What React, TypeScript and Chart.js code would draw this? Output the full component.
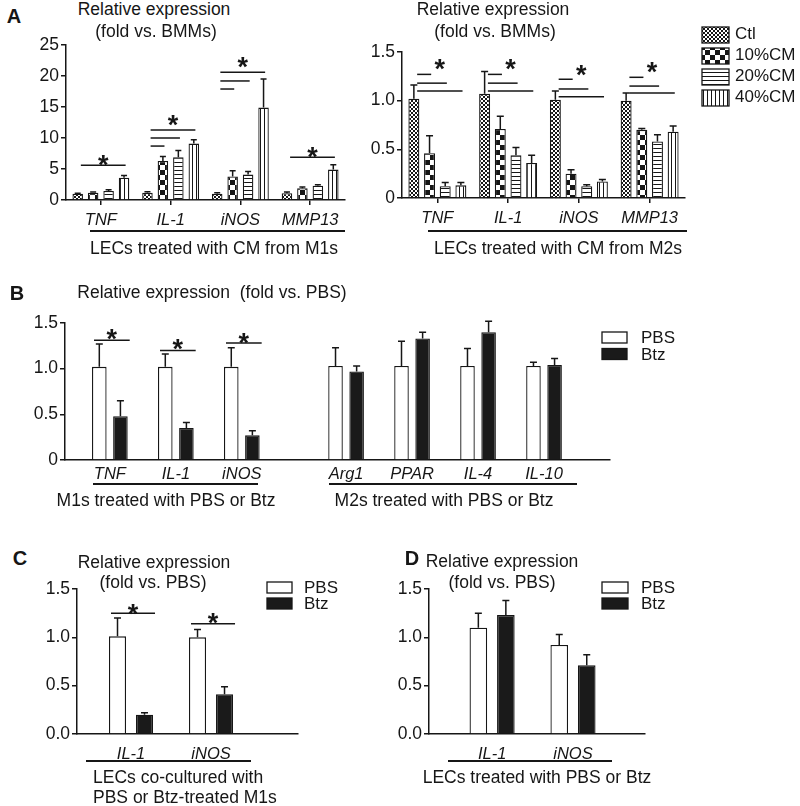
import React, { useEffect, useRef } from 'react';
import { Chart, registerables } from 'chart.js';

Chart.register(...registerables);

const FONT = '"Liberation Sans", Arial, Helvetica, sans-serif';
const INK = '#161616';

// ---------- Panel A (left): LECs treated with CM from M1s ----------
const aGenes = ['TNF', 'IL-1', 'iNOS', 'MMP13'];
const aGroups = ['Ctl', '10%CM', '20%CM', '40%CM'];
const aM1Ctl = [1.0, 1.15, 1.0, 1.1];
const aM1Cm10 = [1.15, 6.3, 3.8, 1.9];
const aM1Cm20 = [1.45, 6.9, 4.1, 2.3];
const aM1Cm40 = [3.6, 9.1, 14.9, 4.9];
const aM1CtlErr = [0.1, 0.2, 0.15, 0.2];
const aM1Cm10Err = [0.15, 0.7, 0.9, 0.2];
const aM1Cm20Err = [0.2, 1.1, 0.5, 0.15];
const aM1Cm40Err = [0.35, 0.6, 4.6, 0.8];
const aM1YTicks = ['0', '5', '10', '15', '20', '25'];
// [gene, from group, to group, height]
const aM1Sig = [[0, 0, 3, 5.6], [1, 0, 1, 8.7], [1, 0, 2, 10.0], [1, 0, 3, 11.3], [2, 0, 1, 17.9], [2, 0, 2, 19.2], [2, 0, 3, 20.6], [3, 0, 3, 6.9]];
const aM1Stars = [[0, 6.8], [1, 13.2], [2, 22.6], [3, 8.1]];

// ---------- Panel A (right): LECs treated with CM from M2s ----------
const aM2Ctl = [1.02, 1.07, 1.01, 1.0];
const aM2Cm10 = [0.46, 0.71, 0.25, 0.7];
const aM2Cm20 = [0.12, 0.44, 0.12, 0.58];
const aM2Cm40 = [0.13, 0.36, 0.17, 0.68];
const aM2CtlErr = [0.14, 0.23, 0.09, 0.08];
const aM2Cm10Err = [0.18, 0.13, 0.04, 0.015];
const aM2Cm20Err = [0.04, 0.08, 0.015, 0.07];
const aM2Cm40Err = [0.03, 0.08, 0.02, 0.06];
const aM2YTicks = ['0', '0.5', '1.0', '1.5'];
const aM2Sig = [[0, 0, 1, 1.27], [0, 0, 2, 1.18], [0, 0, 3, 1.1], [1, 0, 1, 1.27], [1, 0, 2, 1.18], [1, 0, 3, 1.1], [2, 0, 1, 1.22], [2, 0, 2, 1.12], [2, 0, 3, 1.04], [3, 0, 1, 1.24], [3, 0, 2, 1.15], [3, 0, 3, 1.08]];
const aM2Stars = [[0, 1.4], [1, 1.4], [2, 1.34], [3, 1.37]];

// ---------- Panel B ----------
const bM1Genes = ['TNF', 'IL-1', 'iNOS'];
const bM2Genes = ['Arg1', 'PPAR', 'IL-4', 'IL-10'];
const bTreat = ['PBS', 'Btz'];
const bPBS = [1.02, 1.02, 1.02, 1.03, 1.03, 1.03, 1.03];
const bPBSErr = [0.25, 0.14, 0.21, 0.2, 0.27, 0.19, 0.04];
const bBtz = [0.48, 0.35, 0.27, 0.97, 1.33, 1.4, 1.04];
const bBtzErr = [0.17, 0.06, 0.05, 0.06, 0.07, 0.12, 0.07];
const bYTicks = ['0', '0.5', '1.0', '1.5'];
const bSig = [[0, 0, 1, 1.31], [1, 0, 1, 1.2], [2, 0, 1, 1.28]];
const bStars = [[0, 1.4], [1, 1.29], [2, 1.36]];
const B_GAP = 0.58;

// ---------- Panel C ----------
const cGenes = ['IL-1', 'iNOS'];
const cPBS = [1.01, 1.0];
const cPBSErr = [0.19, 0.08];
const cBtz = [0.2, 0.41];
const cBtzErr = [0.02, 0.08];
const cdYTicks = ['0.0', '0.5', '1.0', '1.5'];
const cSig = [[0, 0, 1, 1.25], [1, 0, 1, 1.14]];
const cStars = [[0, 1.32], [1, 1.22]];

// ---------- Panel D ----------
const dGenes = ['IL-1', 'iNOS'];
const dPBS = [1.1, 0.92];
const dPBSErr = [0.15, 0.11];
const dBtz = [1.23, 0.71];
const dBtzErr = [0.15, 0.11];

type Fill = 'fine' | 'check' | 'hlines' | 'vlines' | 'white' | 'black';
interface SetSpec { label: string; values: number[]; errors: number[]; fill: Fill }
interface Spec {
  canvas: number[]; // page x, y, w, h
  area: number[]; // page l, t, r, b
  labels: string[];
  pos: number[];
  xRange: number[];
  yMax: number; yStep: number; yTicks: string[];
  sets: SetSpec[];
  catPct: number; barPct: number;
  xTickMarks: boolean; labelPad: number;
  sig: number[][]; stars: number[][]; sigStyle: 'center' | 'span';
  cap: number; starSize: number;
  legend: { x: number; y: number; w: number; h: number; pitch: number; tx: number; dy: number };
}

function makeFill(kind: Fill): any {
  if (kind === 'white') return '#ffffff';
  if (kind === 'black') return '#1a1a1a';
  const c = document.createElement('canvas');
  const g = c.getContext('2d')!;
  if (kind === 'fine') {
    c.width = 4; c.height = 4;
    g.fillStyle = '#fff'; g.fillRect(0, 0, 4, 4);
    g.fillStyle = INK; g.fillRect(0, 0, 2, 2); g.fillRect(2, 2, 2, 2);
  } else if (kind === 'check') {
    c.width = 10; c.height = 10;
    g.fillStyle = '#fff'; g.fillRect(0, 0, 10, 10);
    g.fillStyle = INK; g.fillRect(0, 0, 5, 5); g.fillRect(5, 5, 5, 5);
  } else if (kind === 'hlines') {
    c.width = 4; c.height = 4;
    g.fillStyle = '#fff'; g.fillRect(0, 0, 4, 4);
    g.fillStyle = INK; g.fillRect(0, 0, 4, 1);
  } else {
    c.width = 4; c.height = 4;
    g.fillStyle = '#fff'; g.fillRect(0, 0, 4, 4);
    g.fillStyle = INK; g.fillRect(0, 0, 1, 4);
  }
  return g.createPattern(c, 'repeat');
}

function makeAnnot(s: Spec, fills: any[]) {
  return {
    id: 'annot',
    afterDatasetsDraw(chart: any) {
      const ctx = chart.ctx as CanvasRenderingContext2D;
      const y = chart.scales.y;
      ctx.save();
      ctx.strokeStyle = INK;
      ctx.lineWidth = 1.5;
      // error bars
      s.sets.forEach((d, di) => {
        chart.getDatasetMeta(di).data.forEach((el: any, i: number) => {
          const top = y.getPixelForValue(d.values[i] + d.errors[i]);
          ctx.beginPath();
          ctx.moveTo(el.x, el.y);
          ctx.lineTo(el.x, top);
          ctx.moveTo(el.x - s.cap / 2, top);
          ctx.lineTo(el.x + s.cap / 2, top);
          ctx.stroke();
        });
      });
      // significance lines
      const bar = (di: number, ci: number) => chart.getDatasetMeta(di).data[ci] as any;
      const spans: Record<number, number[]> = {};
      s.sig.forEach(([ci, from, to, v]) => {
        const a = bar(from, ci);
        const b = bar(to, ci);
        let x1: number, x2: number;
        if (s.sigStyle === 'span') {
          x1 = a.x - a.width / 2 + 2;
          x2 = b.x + b.width / 2 + 2;
        } else {
          x1 = a.x + a.width * 0.3;
          x2 = b.x + b.width * 0.15;
        }
        const py = y.getPixelForValue(v);
        ctx.beginPath();
        ctx.moveTo(x1, py);
        ctx.lineTo(x2, py);
        ctx.stroke();
        const cur = spans[ci];
        if (!cur || cur[1] - cur[0] < x2 - x1) spans[ci] = [x1, x2];
      });
      ctx.fillStyle = INK;
      ctx.font = `bold ${s.starSize}px ${FONT}`;
      ctx.textAlign = 'center';
      ctx.textBaseline = 'alphabetic';
      s.stars.forEach(([ci, v]) => {
        const sp = spans[ci];
        const cx = (sp[0] + sp[1]) / 2;
        const cy = y.getPixelForValue(v);
        ctx.fillText('*', cx, cy + 0.6 * s.starSize);
      });
      // legend
      const L = s.legend;
      const ox = s.canvas[0];
      const oy = s.canvas[1];
      ctx.font = `17px ${FONT}`;
      ctx.textAlign = 'left';
      ctx.textBaseline = 'middle';
      ctx.lineWidth = 1.3;
      s.sets.forEach((d, i) => {
        const yy = L.y - oy + i * L.pitch;
        ctx.fillStyle = fills[i];
        ctx.fillRect(L.x - ox, yy, L.w, L.h);
        ctx.strokeRect(L.x - ox, yy, L.w, L.h);
        ctx.fillStyle = INK;
        ctx.fillText(d.label, L.tx - ox, yy + L.h / 2 + L.dy);
      });
      ctx.restore();
    },
  };
}

function BarPanel({ spec }: { spec: Spec }) {
  const ref = useRef<HTMLCanvasElement>(null);
  const [cx, cy, cw, ch] = spec.canvas;
  useEffect(() => {
    const s = spec;
    const [l, t, r, b] = s.area;
    const YW = 45;
    const XH = 30;
    const padding = { left: l - cx - YW, top: t - cy, right: cx + cw - r, bottom: cy + ch - b - XH };
    const fills = s.sets.map((d) => makeFill(d.fill));
    const chart = new Chart(ref.current!, {
      type: 'bar',
      data: {
        datasets: s.sets.map((d, di) => ({
          label: d.label,
          data: d.values.map((v, i) => ({ x: s.pos[i], y: v })),
          backgroundColor: fills[di],
          borderColor: INK,
          borderWidth: 1.3,
          borderSkipped: 'start',
          categoryPercentage: s.catPct,
          barPercentage: s.barPct,
        })) as any,
      },
      options: {
        responsive: false,
        animation: false,
        devicePixelRatio: 1,
        layout: { padding },
        plugins: { legend: { display: false }, tooltip: { enabled: false } },
        scales: {
          x: {
            type: 'linear',
            min: s.xRange[0],
            max: s.xRange[1],
            offset: false,
            afterBuildTicks: (sc: any) => { sc.ticks = s.pos.map((v) => ({ value: v })); },
            afterFit: (sc: any) => { sc.height = XH; },
            border: { display: true, color: INK, width: 1.5 },
            grid: { display: s.xTickMarks, drawOnChartArea: false, drawTicks: s.xTickMarks, tickLength: 5, color: INK, lineWidth: 1.5, offset: false },
            ticks: {
              autoSkip: false, maxRotation: 0, minRotation: 0, padding: s.labelPad, color: INK,
              font: { family: FONT, size: 16.5, style: 'italic' },
              callback: (v: any) => s.labels[s.pos.indexOf(v)] ?? '',
            },
          },
          y: {
            min: 0,
            max: s.yMax,
            afterFit: (sc: any) => { sc.width = YW; },
            border: { display: true, color: INK, width: 1.5 },
            grid: { drawOnChartArea: false, drawTicks: true, tickLength: 5, color: INK, lineWidth: 1.5 },
            ticks: {
              stepSize: s.yStep, padding: 2, color: INK,
              font: { family: FONT, size: 17.5 },
              callback: (_v: any, i: number) => s.yTicks[i],
            },
          },
        } as any,
      },
      plugins: [makeAnnot(s, fills)],
    });
    return () => chart.destroy();
  }, []);
  return (
    <canvas
      ref={ref}
      width={cw}
      height={ch}
      style={{ position: 'absolute', left: cx, top: cy, width: cw, height: ch }}
    />
  );
}

function Txt({ x, y, children, size = 17.5, bold = false, left = false }: any) {
  return (
    <div
      style={{
        position: 'absolute', left: x, top: y,
        transform: left ? 'translate(0,-50%)' : 'translate(-50%,-50%)',
        fontFamily: FONT, fontSize: size, fontWeight: bold ? 700 : 400,
        whiteSpace: 'pre', lineHeight: 1, color: INK,
      }}
    >
      {children}
    </div>
  );
}

function HLine({ x1, x2, y }: { x1: number; x2: number; y: number }) {
  return <div style={{ position: 'absolute', left: x1, top: y - 0.75, width: x2 - x1, height: 1.5, background: INK }} />;
}

const idx = (arr: string[]) => arr.map((_, i) => i);

const specAM1: Spec = {
  canvas: [0, 30, 360, 205],
  area: [66, 45, 345, 200],
  labels: aGenes,
  pos: idx(aGenes),
  xRange: [-0.5, 3.5],
  yMax: 25, yStep: 5, yTicks: aM1YTicks,
  sets: [
    { label: aGroups[0], values: aM1Ctl, errors: aM1CtlErr, fill: 'fine' },
    { label: aGroups[1], values: aM1Cm10, errors: aM1Cm10Err, fill: 'check' },
    { label: aGroups[2], values: aM1Cm20, errors: aM1Cm20Err, fill: 'hlines' },
    { label: aGroups[3], values: aM1Cm40, errors: aM1Cm40Err, fill: 'vlines' },
  ],
  catPct: 0.886, barPct: 0.68,
  xTickMarks: true, labelPad: 6,
  sig: aM1Sig, stars: aM1Stars, sigStyle: 'center',
  cap: 6, starSize: 27,
  legend: { x: -100, y: -100, w: 0, h: 0, pitch: 0, tx: -100, dy: 0 },
};

const specAM2: Spec = {
  canvas: [355, 20, 445, 215],
  area: [402, 52, 685, 198],
  labels: aGenes,
  pos: idx(aGenes),
  xRange: [-0.5, 3.5],
  yMax: 1.5, yStep: 0.5, yTicks: aM2YTicks,
  sets: [
    { label: aGroups[0], values: aM2Ctl, errors: aM2CtlErr, fill: 'fine' },
    { label: aGroups[1], values: aM2Cm10, errors: aM2Cm10Err, fill: 'check' },
    { label: aGroups[2], values: aM2Cm20, errors: aM2Cm20Err, fill: 'hlines' },
    { label: aGroups[3], values: aM2Cm40, errors: aM2Cm40Err, fill: 'vlines' },
  ],
  catPct: 0.886, barPct: 0.7,
  xTickMarks: true, labelPad: 6,
  sig: aM2Sig, stars: aM2Stars, sigStyle: 'center',
  cap: 7, starSize: 27,
  legend: { x: 702, y: 27, w: 27, h: 16, pitch: 21, tx: 735, dy: -1 },
};

const bGenes = [...bM1Genes, ...bM2Genes];
const specB: Spec = {
  canvas: [0, 300, 800, 195],
  area: [65, 323, 610, 460],
  labels: bGenes,
  pos: bGenes.map((_, i) => (i < bM1Genes.length ? i : i + B_GAP)),
  xRange: [-0.68, 7.58],
  yMax: 1.5, yStep: 0.5, yTicks: bYTicks,
  sets: [
    { label: bTreat[0], values: bPBS, errors: bPBSErr, fill: 'white' },
    { label: bTreat[1], values: bBtz, errors: bBtzErr, fill: 'black' },
  ],
  catPct: 0.64, barPct: 0.69,
  xTickMarks: false, labelPad: 5,
  sig: bSig, stars: bStars, sigStyle: 'span',
  cap: 7, starSize: 27,
  legend: { x: 602, y: 332, w: 25, h: 11, pitch: 16.5, tx: 641, dy: 1 },
};

const specC: Spec = {
  canvas: [0, 570, 400, 200],
  area: [77, 589, 298, 734],
  labels: cGenes,
  pos: idx(cGenes),
  xRange: [-0.675, 2.087],
  yMax: 1.5, yStep: 0.5, yTicks: cdYTicks,
  sets: [
    { label: bTreat[0], values: cPBS, errors: cPBSErr, fill: 'white' },
    { label: bTreat[1], values: cBtz, errors: cBtzErr, fill: 'black' },
  ],
  catPct: 0.675, barPct: 0.63,
  xTickMarks: false, labelPad: 11,
  sig: cSig, stars: cStars, sigStyle: 'span',
  cap: 7, starSize: 27,
  legend: { x: 267, y: 582, w: 25, h: 11, pitch: 16, tx: 304, dy: 1 },
};

const specD: Spec = {
  canvas: [380, 570, 400, 200],
  area: [429, 589, 645, 734],
  labels: dGenes,
  pos: idx(dGenes),
  xRange: [-0.78, 1.89],
  yMax: 1.5, yStep: 0.5, yTicks: cdYTicks,
  sets: [
    { label: bTreat[0], values: dPBS, errors: dPBSErr, fill: 'white' },
    { label: bTreat[1], values: dBtz, errors: dBtzErr, fill: 'black' },
  ],
  catPct: 0.68, barPct: 0.64,
  xTickMarks: false, labelPad: 11,
  sig: [], stars: [], sigStyle: 'span',
  cap: 7, starSize: 27,
  legend: { x: 602, y: 582, w: 26, h: 11, pitch: 16, tx: 641, dy: 1 },
};

export default function App() {
  useEffect(() => {
    document.body.style.margin = '0';
  }, []);
  return (
    <div style={{ position: 'absolute', left: 0, top: 0, width: 800, height: 806, background: '#fff', overflow: 'hidden' }}>
      <BarPanel spec={specAM1} />
      <BarPanel spec={specAM2} />
      <BarPanel spec={specB} />
      <BarPanel spec={specC} />
      <BarPanel spec={specD} />

      <Txt x={14} y={16} size={20} bold>A</Txt>
      <Txt x={154} y={10}>Relative expression</Txt>
      <Txt x={156} y={32}>(fold vs. BMMs)</Txt>
      <Txt x={493} y={10}>Relative expression</Txt>
      <Txt x={495} y={32}>(fold vs. BMMs)</Txt>
      <HLine x1={90} x2={345} y={231} />
      <Txt x={214} y={249}>LECs treated with CM from M1s</Txt>
      <HLine x1={428} x2={687} y={231} />
      <Txt x={558} y={249}>LECs treated with CM from M2s</Txt>

      <Txt x={17} y={293} size={20} bold>B</Txt>
      <Txt x={212} y={293}>Relative expression  (fold vs. PBS)</Txt>
      <HLine x1={93} x2={258} y={484} />
      <HLine x1={329} x2={577} y={484} />
      <Txt x={166} y={501}>M1s treated with PBS or Btz</Txt>
      <Txt x={444} y={501}>M2s treated with PBS or Btz</Txt>

      <Txt x={20} y={558} size={20} bold>C</Txt>
      <Txt x={154} y={563}>Relative expression</Txt>
      <Txt x={153} y={583}>(fold vs. PBS)</Txt>
      <HLine x1={86} x2={251} y={761} />
      <Txt x={93} y={778} left>LECs co-cultured with</Txt>
      <Txt x={93} y={798} left>PBS or Btz-treated M1s</Txt>

      <Txt x={412} y={558} size={20} bold>D</Txt>
      <Txt x={502} y={562}>Relative expression</Txt>
      <Txt x={502} y={583}>(fold vs. PBS)</Txt>
      <HLine x1={448} x2={612} y={761} />
      <Txt x={537} y={778}>LECs treated with PBS or Btz</Txt>
    </div>
  );
}
